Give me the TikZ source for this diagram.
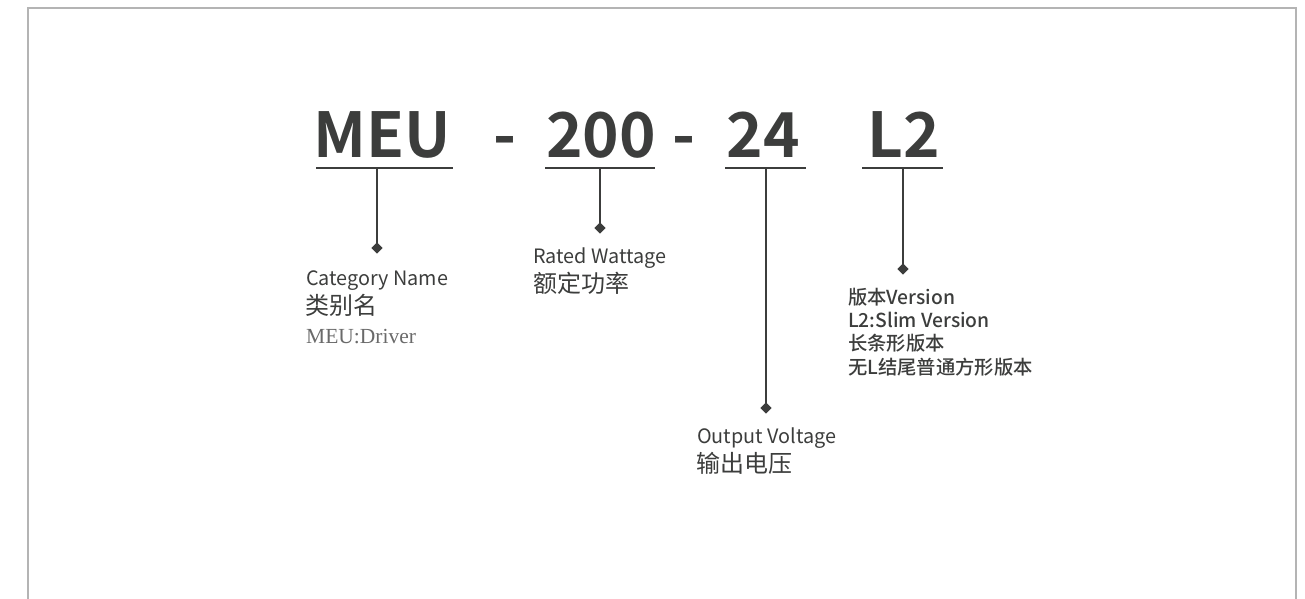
\documentclass[tikz,border=0pt]{standalone}
\usepackage{fontspec}
\setmainfont{Noto Sans CJK SC}[BoldFont={Noto Sans CJK SC Bold}]
\newfontfamily\medfont{Noto Sans CJK SC Medium}
\newfontfamily\seriffont{Liberation Serif}
\definecolor{ink}{HTML}{3C3D3C}
\definecolor{frame}{HTML}{B4B4B4}
\definecolor{soft}{HTML}{6A6A6A}
\tikzset{
  big/.style={anchor=base, inner sep=0pt, text=ink, font=\bfseries\fontsize{62}{62}\selectfont},
  en/.style={anchor=base west, inner sep=0pt, text=ink, font=\fontsize{19.8}{20}\selectfont},
  zh/.style={anchor=base west, inner sep=0pt, text=ink, font=\fontsize{24}{24}\selectfont},
  ver/.style={anchor=base west, inner sep=0pt, text=ink, font=\medfont\fontsize{19.3}{20}\selectfont},
  note/.style={anchor=base west, inner sep=0pt, text=soft, font=\seriffont\fontsize{21.5}{22}\selectfont},
  uline/.style={draw=ink, line width=1.4pt},
  stem/.style={draw=ink, line width=1.4pt},
  dia/.style={diamond, fill=ink, inner sep=0pt, minimum size=11.5pt},
}
\usetikzlibrary{shapes.geometric}
\begin{document}
\begin{tikzpicture}[x=1pt,y=-1pt]
\useasboundingbox (0,0) rectangle (1305,598);
\draw[frame, line width=2pt] (28,600) -- (28,8) -- (1296,8) -- (1296,600);
% code parts
\node[big] (meu) at (382.5,157) {MEU};
\node[big] (d1) at (505,157) {-};
\node[big] (w) at (601,157) {200};
\node[big] (d2) at (684,157) {-};
\node[big] (v) at (763,157) {24};
\node[big] (l) at (904,157) {L2};
% underlines
\draw[uline] (316,168) -- (453,168);
\draw[uline] (545,168) -- (655,168);
\draw[uline] (725,168) -- (806,168);
\draw[uline] (862,168) -- (943,168);
\coordinate (t1) at (377,168);
\coordinate (t2) at (600,168);
\coordinate (t3) at (766,168);
\coordinate (t4) at (903,168);
% diamonds
\node[dia] (k1) at (377,248) {};
\node[dia] (k2) at (600,228) {};
\node[dia] (k3) at (766,408) {};
\node[dia] (k4) at (903,269) {};
\draw[stem] (t1) -- (k1.center);
\draw[stem] (t2) -- (k2.center);
\draw[stem] (t3) -- (k3.center);
\draw[stem] (t4) -- (k4.center);
% labels
\node[en] (c1) at (306,285) {Category Name};
\node[zh] (c2) at (305,314) {类别名};
\node[note] (c3) at (306,343) {MEU:Driver};
\node[en] (r1) at (533,263) {Rated Wattage};
\node[zh] (r2) at (533,292) {额定功率};
\node[ver] (s1) at (848,304) {版本Version};
\node[ver] (s2) at (848,327) {L2:Slim Version};
\node[ver] (s3) at (848,350) {长条形版本};
\node[ver] (s4) at (848,374) {无L结尾普通方形版本};
\node[en] (o1) at (697,443) {Output Voltage};
\node[zh] (o2) at (696,472) {输出电压};
\end{tikzpicture}
\end{document}
